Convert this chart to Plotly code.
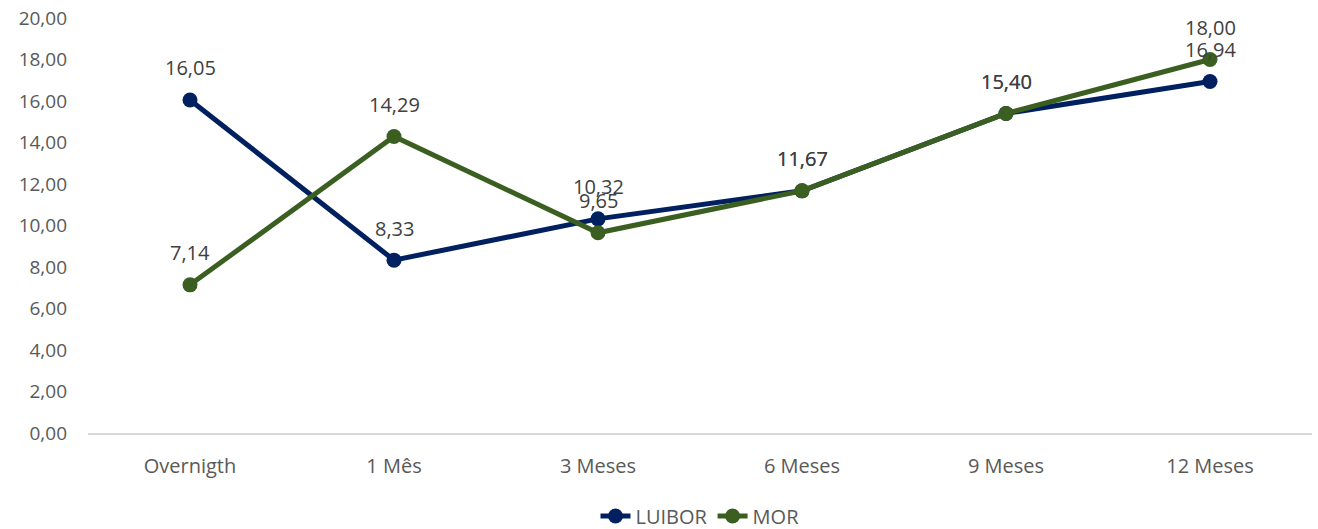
import plotly.graph_objects as go

categories = ["Overnigth", "1 Mês", "3 Meses", "6 Meses", "9 Meses", "12 Meses"]
luibor = [16.05, 8.33, 10.32, 11.67, 15.40, 16.94]
mor = [7.14, 14.29, 9.65, 11.67, 15.40, 18.00]
y_ticks = [0, 2, 4, 6, 8, 10, 12, 14, 16, 18, 20]

NAVY = "#002060"
GREEN = "#3B5E21"
TEXT = "#595959"
FONT = "Open Sans"


def fmt(v):
    return f"{v:.2f}".replace(".", ",")


fig = go.Figure()
for name, vals, col in [("LUIBOR", luibor, NAVY), ("MOR", mor, GREEN)]:
    fig.add_trace(go.Scatter(
        x=categories, y=vals, name=name, mode="lines+markers",
        line=dict(color=col, width=5),
        marker=dict(color=col, size=15),
    ))
    for c, v in zip(categories, vals):
        fig.add_annotation(
            x=c, y=v, text=fmt(v), showarrow=False, yshift=32,
            font=dict(family=FONT, size=20, color="#404040"),
        )

fig.update_layout(
    width=1318, height=529,
    margin=dict(l=88, r=6, t=18, b=96, autoexpand=False),
    plot_bgcolor="white", paper_bgcolor="white",
    font=dict(family=FONT, size=20, color=TEXT),
    showlegend=True,
    legend=dict(orientation="h", x=0.5, xanchor="center",
                yref="container", y=1 - 516 / 529, yanchor="middle",
                font=dict(family=FONT, size=20, color=TEXT),
                traceorder="normal"),
)
fig.update_xaxes(
    type="category", range=[-0.5, 5.5], showgrid=False,
    showline=True, linecolor="#D9D9D9", linewidth=1.5,
    ticks="", ticklabelstandoff=14,
    tickfont=dict(family=FONT, size=20, color=TEXT),
)
fig.update_yaxes(
    range=[0, 20], tickvals=y_ticks, ticktext=[fmt(v) for v in y_ticks],
    showgrid=False, zeroline=False, showline=False,
    ticks="", ticklabelstandoff=20,
    tickfont=dict(family=FONT, size=19, color=TEXT),
)

fig.write_html("out.html")
